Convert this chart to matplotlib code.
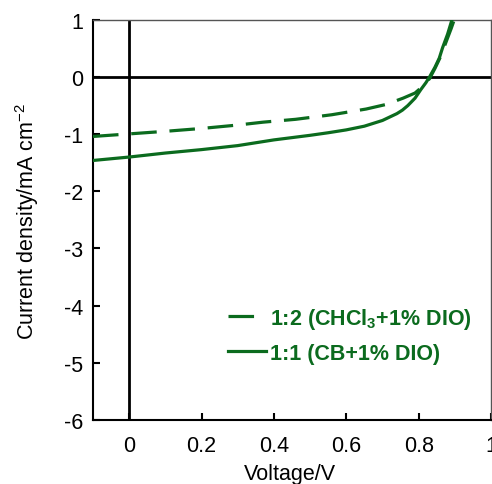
import matplotlib
matplotlib.use("Agg")
import matplotlib.pyplot as plt

plt.rcParams['font.family'] = ['Liberation Sans', 'DejaVu Sans']
plt.rcParams['axes.unicode_minus'] = False

# J-V data
v_cb = [-0.1, 0.0, 0.1, 0.2, 0.3, 0.36, 0.4, 0.5, 0.55, 0.6, 0.65, 0.68, 0.7, 0.72, 0.74,
        0.755, 0.77, 0.79, 0.806, 0.82, 0.83, 0.845, 0.857, 0.866, 0.88, 0.893]
j_cb = [-1.46, -1.40, -1.33, -1.27, -1.20, -1.14, -1.10, -1.02, -0.975, -0.925, -0.86, -0.80,
        -0.76, -0.70, -0.64, -0.58, -0.50, -0.37, -0.22, -0.10, 0.0, 0.17, 0.33, 0.51, 0.75, 1.02]

v_cf = [-0.1, 0.0, 0.1, 0.2, 0.3, 0.37, 0.46, 0.56, 0.655, 0.71, 0.757, 0.79, 0.81,
        0.83, 0.845, 0.86, 0.875, 0.89, 0.9]
j_cf = [-1.04, -0.995, -0.95, -0.90, -0.84, -0.79, -0.74, -0.66, -0.56, -0.48, -0.37, -0.28,
        -0.17, -0.03, 0.15, 0.35, 0.60, 0.85, 1.03]

label_cf = '1:2 (CHCl$_\\mathregular{3}$+1% DIO)'
label_cb = '1:1 (CB+1% DIO)'
green = '#0b6b1e'

fig = plt.figure(figsize=(4.92, 4.85), dpi=100)
ax = fig.add_axes([0.189, 0.132, 0.809, 0.825])

ax.axhline(0, color='black', lw=2, zorder=1)
ax.axvline(0, color='black', lw=2, zorder=1)

ax.plot(v_cf, j_cf, color=green, lw=2.3, ls=(0, (8, 4)), label=label_cf, zorder=3)
ax.plot(v_cb, j_cb, color=green, lw=2.3, label=label_cb, zorder=3)

ax.set_xlim(-0.1, 1.0)
ax.set_ylim(-6, 1)
ax.set_xticks([0, 0.2, 0.4, 0.6, 0.8, 1.0])
ax.set_xticklabels(['0', '0.2', '0.4', '0.6', '0.8', '1'])
ax.set_yticks(range(-6, 2))
ax.tick_params(direction='in', labelsize=15.5, length=5, width=1.5)
ax.tick_params(axis='x', pad=11)
ax.tick_params(axis='y', pad=7)
for s in ['left', 'bottom']:
    ax.spines[s].set_linewidth(1.5)
for s in ['top', 'right']:
    ax.spines[s].set_linewidth(1.0)
    ax.spines[s].set_color('#555555')

ax.set_xlabel('Voltage/V', fontsize=15.5)
ax.set_ylabel('Current density/mA cm$^\\mathregular{-2}$', fontsize=15.5)
ax.xaxis.set_label_coords(0.495, -0.108)
ax.yaxis.set_label_coords(-0.13, 0.5)

leg = ax.legend(loc='upper left', bbox_to_anchor=(0.338, 0.285), frameon=False,
                borderpad=0, borderaxespad=0, handlelength=1.8, handletextpad=0.15,
                labelspacing=0.55, prop={'weight': 'bold', 'size': 15.5})
for t in leg.get_texts():
    t.set_color(green)

fig.savefig('out.png', dpi=100)
